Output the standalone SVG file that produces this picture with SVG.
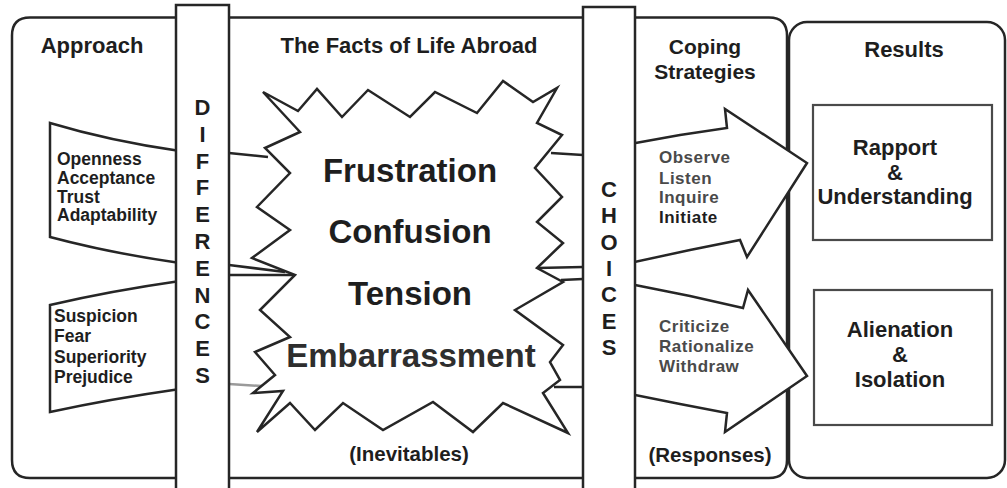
<svg xmlns="http://www.w3.org/2000/svg" width="1007" height="488" viewBox="0 0 1007 488">
<style>
.ln{fill:none;stroke:#262626;stroke-width:2.5;stroke-linejoin:round}
.sh{fill:#fff;stroke:#262626;stroke-width:2.5;stroke-linejoin:miter}
.box{fill:#fff;stroke:#4a4a4a;stroke-width:2.2}
.t{font-family:"Liberation Sans",Arial,sans-serif;font-weight:bold;fill:#1e1e1e}
.h{font-size:22px;text-anchor:middle}
.h2{font-size:21px;text-anchor:middle}
.big{font-size:33px;text-anchor:middle}
.bar{font-size:22px;text-anchor:middle}
.bn{font-size:17.5px}
.ar{font-size:17px;letter-spacing:0.5px;fill:#4a4a4a}
.r{font-size:22px;text-anchor:middle}
.p{font-size:20.5px;text-anchor:middle}
</style>
<rect width="1007" height="488" fill="#fff"/>
<g id="frame">
<path class="sh" d="M30,17.5 H769 Q787,17.5 787,35.5 V460 Q787,478 769,478 H30 Q12,478 12,460 V35.5 Q12,17.5 30,17.5 Z"/>
</g>
<g id="results">
<rect class="sh" x="789" y="22" width="216" height="456" rx="18"/>
<text class="t h" x="904" y="57">Results</text>
</g>
<g id="approach">
<text class="t h" x="92" y="53">Approach</text>
</g>
<g id="approach-positive">
<path class="sh" d="M180,151 Q110,141 50,123 L50,237 Q110,253 180,263"/>
<text class="t bn" x="57" y="165">Openness</text>
<text class="t bn" x="57" y="184">Acceptance</text>
<text class="t bn" x="57" y="203">Trust</text>
<text class="t bn" x="57" y="221">Adaptability</text>
</g>
<g id="approach-negative">
<path class="sh" d="M180,281 Q110,291 50,305 L50,412 Q110,399 180,389"/>
<text class="t bn" x="54" y="322">Suspicion</text>
<text class="t bn" x="54" y="342">Fear</text>
<text class="t bn" x="54" y="363">Superiority</text>
<text class="t bn" x="54" y="383">Prejudice</text>
</g>
<g id="connectors">
<path class="ln" d="M229,153 L268,157"/>
<path class="ln" d="M229,265 L285,272"/>
<path class="ln" d="M229,275 L295,275"/>
<path class="ln" d="M229,384 L262,386" style="stroke:#9a9a9a"/>
<path class="ln" d="M551,153 L583,155"/>
<path class="ln" d="M537,268 L583,267"/>
<path class="ln" d="M561,280 L583,279"/>
<path class="ln" d="M554,387 L583,387"/>
</g>
<g id="facts">
<text class="t h" x="409" y="53">The Facts of Life Abroad</text>
<polygon class="sh" points="263,92 298,111 317,89 342,117 368,90 410,117 435,92 477,113 503,81 533,102 557,88 537,123 562,135 535,168 562,197 537,222 563,243 537,268 563,282 515,310 563,345 550,362 560,380 543,393 568,433 503,403 473,432 433,402 383,430 343,403 315,430 290,403 257,432 283,391 253,393 275,375 255,352 290,337 260,310 295,275 252,258 290,230 257,207 290,173 265,148 300,132"/>
<text class="t big" x="410" y="182">Frustration</text>
<text class="t big" x="410" y="243">Confusion</text>
<text class="t big" x="410" y="305">Tension</text>
<text class="t big" x="411" y="367" style="fill:#2e2e2e">Embarrassment</text>
<text class="t p" x="409" y="461">(Inevitables)</text>
</g>
<g id="coping">
<text class="t h2" x="705" y="54">Coping</text>
<text class="t h2" x="705" y="79">Strategies</text>
<text class="t p" x="710" y="462">(Responses)</text>
</g>
<g id="coping-positive">
<polygon class="sh" points="630,144 680,135 727,128 725,109 807,163 747,257 740,240 690,250 630,263"/>
<text class="t ar" x="659" y="163">Observe</text>
<text class="t ar" x="659" y="184">Listen</text>
<text class="t ar" x="659" y="203">Inquire</text>
<text class="t ar" x="659" y="223" style="fill:#1e1e1e">Initiate</text>
</g>
<g id="coping-negative">
<polygon class="sh" points="630,284 690,296 743,308 748,290 807,376 725,432 727,413 680,404 630,394"/>
<text class="t ar" x="659" y="332">Criticize</text>
<text class="t ar" x="659" y="352">Rationalize</text>
<text class="t ar" x="659" y="372">Withdraw</text>
</g>
<g id="result-rapport">
<rect class="box" x="813" y="105" width="179" height="135"/>
<text class="t r" x="895" y="155">Rapport</text>
<text class="t r" x="895" y="180">&amp;</text>
<text class="t r" x="895" y="204">Understanding</text>
</g>
<g id="result-alienation">
<rect class="box" x="814" y="290" width="178" height="135"/>
<text class="t r" x="900" y="337">Alienation</text>
<text class="t r" x="900" y="362">&amp;</text>
<text class="t r" x="900" y="387">Isolation</text>
</g>
<g id="differences">
<rect class="sh" x="176" y="5" width="53" height="495"/>
<text class="t bar" x="202.5" y="115">D</text>
<text class="t bar" x="202.5" y="141.8">I</text>
<text class="t bar" x="202.5" y="168.6">F</text>
<text class="t bar" x="202.5" y="195.4">F</text>
<text class="t bar" x="202.5" y="222.2">E</text>
<text class="t bar" x="202.5" y="249">R</text>
<text class="t bar" x="202.5" y="275.8">E</text>
<text class="t bar" x="202.5" y="302.6">N</text>
<text class="t bar" x="202.5" y="329.4">C</text>
<text class="t bar" x="202.5" y="356.2">E</text>
<text class="t bar" x="202.5" y="383">S</text>
</g>
<g id="choices">
<rect class="sh" x="583" y="7" width="52" height="495"/>
<text class="t bar" x="609" y="197">C</text>
<text class="t bar" x="609" y="223.3">H</text>
<text class="t bar" x="609" y="249.6">O</text>
<text class="t bar" x="609" y="275.9">I</text>
<text class="t bar" x="609" y="302.2">C</text>
<text class="t bar" x="609" y="328.5">E</text>
<text class="t bar" x="609" y="355">S</text>
</g>
</svg>
